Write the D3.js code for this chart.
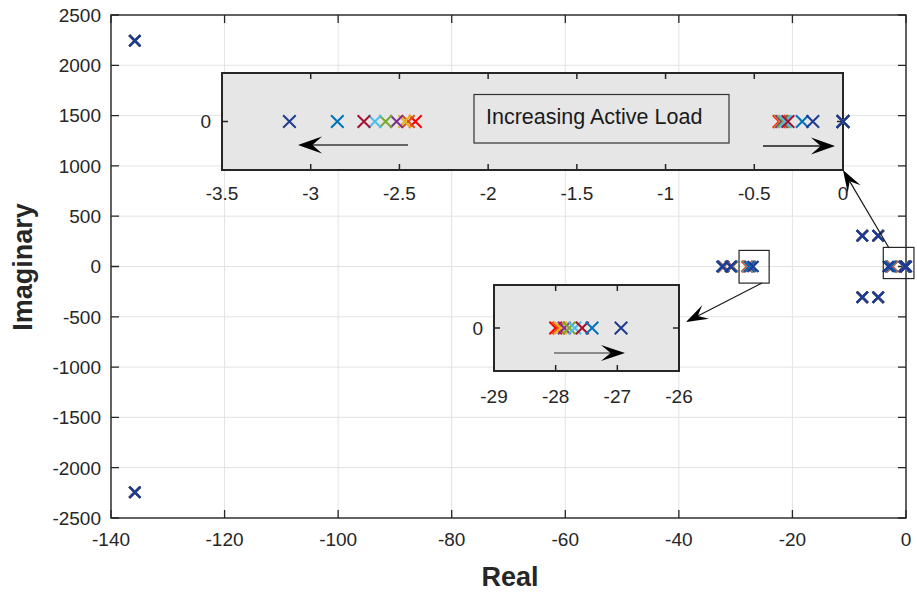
<!DOCTYPE html>
<html><head><meta charset="utf-8">
<script src="https://cdn.jsdelivr.net/npm/d3@7"></script>
<style>
body{margin:0;background:#fff;}
svg{display:block;}
text{font-family:"Liberation Sans",Arial,Helvetica,sans-serif;fill:#262626;}
</style>
</head><body>
<svg id="chart" width="917" height="592"></svg>
<script>
// ---------------- DATA ----------------
// Load cases (increasing active load: red -> dark blue)
const seriesNames = ["Load 1","Load 2","Load 3","Load 4","Load 5","Load 6","Load 7","Load 8","Load 9"];
const seriesColors = ["#FF0000","#D95319","#EDB120","#7E2F8E","#77AC30","#4DBEEE","#A2142F","#0072BD","#1F3A93"];

// real parts of the real poles, one value per load case
const poleSlowLeftRe  = [-2.41, -2.45, -2.47, -2.516, -2.578, -2.638, -2.70, -2.85, -3.12];
const poleSlowRightRe = [-0.36, -0.355, -0.35, -0.345, -0.335, -0.325, -0.31, -0.23, -0.17];
const poleOriginRe    = [0, 0, 0, 0, 0, 0, 0, 0, 0];
const poleMidRe       = [-28.0, -27.95, -27.92, -27.86, -27.78, -27.69, -27.57, -27.41, -26.94];
const poleMidLeftARe  = [-32.10, -32.12, -32.15, -32.18, -32.20, -32.22, -32.25, -32.30, -32.40];
const poleMidLeftBRe  = [-30.60, -30.62, -30.64, -30.67, -30.70, -30.74, -30.78, -30.83, -30.90];
// complex pole pairs (same for all load cases)
const polePairA = {re: -7.7,   im: 305};
const polePairB = {re: -4.9,   im: 305};
const polePairC = {re: -135.8, im: 2245};

// ticks
const mainXTicks = [-140,-120,-100,-80,-60,-40,-20,0];
const mainYTicks = [-2500,-2000,-1500,-1000,-500,0,500,1000,1500,2000,2500];
const topInsetXTicks = [-3.5,-3,-2.5,-2,-1.5,-1,-0.5,0];
const botInsetXTicks = [-29,-28,-27,-26];
const insetYTicks = [0];

const xLabel = "Real", yLabel = "Imaginary";
const noteText = "Increasing Active Load";

// build pole table
const poles = [];
seriesNames.forEach((name,i)=>{
  const c = seriesColors[i];
  [poleSlowLeftRe[i], poleSlowRightRe[i], poleOriginRe[i], poleMidRe[i], poleMidLeftARe[i], poleMidLeftBRe[i]]
    .forEach(re => poles.push({s:i, re, im:0, color:c}));
  [polePairA, polePairB, polePairC].forEach(p=>{
    poles.push({s:i, re:p.re, im:p.im, color:c});
    poles.push({s:i, re:p.re, im:-p.im, color:c});
  });
});

// ---------------- DRAW ----------------
const svg = d3.select("#chart");
const AX = "#262626", GRID = "#e3e3e3";
const TICKFONT = "19px";

const x = d3.scaleLinear().domain([-140,0]).range([111,906]);
const y = d3.scaleLinear().domain([-2500,2500]).range([518,15]);

const fmt = v => String(v);

// grid
const g = svg.append("g");
g.selectAll(".gx").data(mainXTicks).join("line")
  .attr("x1",d=>x(d)).attr("x2",d=>x(d)).attr("y1",y(-2500)).attr("y2",y(2500))
  .attr("stroke",GRID).attr("stroke-width",1);
g.selectAll(".gy").data(mainYTicks).join("line")
  .attr("x1",x(-140)).attr("x2",x(0)).attr("y1",d=>y(d)).attr("y2",d=>y(d))
  .attr("stroke",GRID).attr("stroke-width",1);

// ticks (inward, mirrored)
const tl = 8;
g.selectAll(".tx").data(mainXTicks).join("path")
  .attr("d",d=>`M${x(d)},${y(-2500)}v${-tl}M${x(d)},${y(2500)}v${tl}`)
  .attr("stroke",AX).attr("stroke-width",1.3);
g.selectAll(".ty").data(mainYTicks).join("path")
  .attr("d",d=>`M${x(-140)},${y(d)}h${tl}M${x(0)},${y(d)}h${-tl}`)
  .attr("stroke",AX).attr("stroke-width",1.3);
// box
g.append("rect").attr("x",x(-140)).attr("y",y(2500)).attr("width",x(0)-x(-140)).attr("height",y(-2500)-y(2500))
  .attr("fill","none").attr("stroke",AX).attr("stroke-width",1.4);

// tick labels
g.selectAll(".lx").data(mainXTicks).join("text")
  .attr("x",d=>x(d)).attr("y",y(-2500)+28).attr("text-anchor","middle")
  .style("font-size",TICKFONT).text(fmt);
g.selectAll(".ly").data(mainYTicks).join("text")
  .attr("x",x(-140)-10).attr("y",d=>y(d)).attr("dy","0.36em").attr("text-anchor","end")
  .style("font-size",TICKFONT).text(fmt);

// axis labels
svg.append("text").attr("x",510).attr("y",586).attr("text-anchor","middle")
  .style("font-size","27px").style("font-weight","bold").text(xLabel);
svg.append("text").attr("transform",`translate(32,267) rotate(-90)`).attr("text-anchor","middle")
  .style("font-size","27px").style("font-weight","bold").text(yLabel);

// cross marker
function cross(sel, half, sw){
  sel.attr("d",`M${-half},${-half}L${half},${half}M${-half},${half}L${half},${-half}`)
     .attr("fill","none").attr("stroke",d=>d.color).attr("stroke-width",sw);
}

// main markers
svg.append("g").selectAll("path").data(poles).join("path")
  .attr("transform",d=>`translate(${x(d.re)},${y(d.im)})`)
  .call(cross,5.5,2.2);

// arrow helper
function arrow(parent, x1,y1,x2,y2, lineColor, L, W, lw){
  const ang = Math.atan2(y2-y1,x2-x1);
  const ex = x2 - Math.cos(ang)*L*0.6, ey = y2 - Math.sin(ang)*L*0.6;
  parent.append("line").attr("x1",x1).attr("y1",y1).attr("x2",ex).attr("y2",ey)
    .attr("stroke",lineColor).attr("stroke-width",lw);
  parent.append("path")
    .attr("d",`M0,0L${-L},${-W/2}L${-0.6*L},0L${-L},${W/2}Z`)
    .attr("transform",`translate(${x2},${y2}) rotate(${ang*180/Math.PI})`)
    .attr("fill","#000");
}

// inset builder
function inset(cfg){
  const ig = svg.append("g");
  const xs = d3.scaleLinear().domain(cfg.xd).range([cfg.x0,cfg.x1]);
  const ys = d3.scaleLinear().domain([-1,1]).range([cfg.y1,cfg.y0]);
  ig.append("rect").attr("x",cfg.x0).attr("y",cfg.y0).attr("width",cfg.x1-cfg.x0).attr("height",cfg.y1-cfg.y0)
    .attr("fill","#e6e6e6");
  const t = 6;
  ig.selectAll(".t").data(cfg.ticks).join("path")
    .attr("d",d=>`M${xs(d)},${cfg.y1}v${-t}M${xs(d)},${cfg.y0}v${t}`)
    .attr("stroke",AX).attr("stroke-width",1.5);
  ig.selectAll(".ty").data(insetYTicks).join("path")
    .attr("d",d=>`M${cfg.x0},${ys(d)}h${t}M${cfg.x1},${ys(d)}h${-t}`)
    .attr("stroke",AX).attr("stroke-width",1.5);
  ig.selectAll(".l").data(cfg.ticks).join("text")
    .attr("x",d=>xs(d)).attr("y",cfg.y1+cfg.labOff).attr("text-anchor","middle")
    .style("font-size",TICKFONT).text(fmt);
  ig.selectAll(".ly").data(insetYTicks).join("text")
    .attr("x",cfg.x0-11).attr("y",d=>ys(d)).attr("dy","0.36em").attr("text-anchor","end")
    .style("font-size",TICKFONT).text(fmt);
  ig.append("rect").attr("x",cfg.x0).attr("y",cfg.y0).attr("width",cfg.x1-cfg.x0).attr("height",cfg.y1-cfg.y0)
    .attr("fill","none").attr("stroke",AX).attr("stroke-width",2);
  return {ig, xs, ys};
}

// top inset
const topIns = inset({xd:[-3.5,0], x0:222, x1:843, y0:73, y1:170, ticks:topInsetXTicks, labOff:30});
topIns.ig.append("rect").attr("x",474).attr("y",94.5).attr("width",255).attr("height",48.5)
  .attr("fill","#e6e6e6").attr("stroke","#333").attr("stroke-width",1.2);
topIns.ig.append("text").attr("x",486).attr("y",123.5).style("font-size","21.5px").style("fill","#1a1a1a").text(noteText);
const topPts = poles.filter(p=>p.im===0 && p.re>=-3.5 && p.re<=0);
topIns.ig.append("g").selectAll("path").data(topPts).join("path")
  .attr("transform",d=>`translate(${topIns.xs(d.re)},${topIns.ys(d.im)})`).call(cross,6.3,2);
arrow(topIns.ig, 408,145, 298,145, "#3a3a3a", 24, 17, 1.6);
arrow(topIns.ig, 763,146, 835,146, "#1a1a1a", 24, 17, 1.6);

// bottom inset
const botIns = inset({xd:[-29,-26], x0:494, x1:679, y0:285, y1:371, ticks:botInsetXTicks, labOff:32});
const botPts = poles.filter(p=>p.im===0 && p.re>=-29 && p.re<=-26);
botIns.ig.append("g").selectAll("path").data(botPts).join("path")
  .attr("transform",d=>`translate(${botIns.xs(d.re)},${botIns.ys(d.im)})`).call(cross,6.3,2);
arrow(botIns.ig, 554,353, 625,353, "#6b6b6b", 24, 16, 1.6);

// zoom boxes and connectors (in main-axis coordinates)
const ann = svg.append("g");
const zoomBoxes = [{re0:-4.0, re1:1.4, im0:-120, im1:190}, {re0:-29.4, re1:-24.1, im0:-165, im1:160}];
zoomBoxes.forEach(b=>{
  ann.append("rect").attr("x",x(b.re0)).attr("y",y(b.im1)).attr("width",x(b.re1)-x(b.re0)).attr("height",y(b.im0)-y(b.im1))
    .attr("fill","none").attr("stroke",AX).attr("stroke-width",1.2);
});
arrow(ann, 889,248, 843,170, "#1a1a1a", 22, 15, 1.2);
arrow(ann, 762,283, 686,322, "#1a1a1a", 22, 15, 1.2);
</script>
</body></html>
